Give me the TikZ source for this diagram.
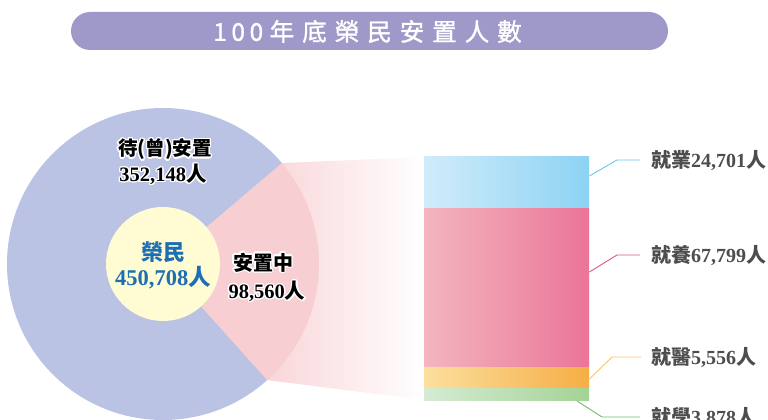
\documentclass[tikz,border=0pt]{standalone}
\usepackage{fontspec}
\setmainfont{Liberation Serif}
\newfontfamily\cjk{Noto Sans CJK TC}
\newfontfamily\cjktitle[FakeBold=1.3]{Noto Sans CJK TC}
\usepackage{contour}
\contourlength{1.3pt}
\usetikzlibrary{calc}
\definecolor{pillc}{HTML}{9F99C9}
\definecolor{bluec}{HTML}{BAC3E3}
\definecolor{pinks}{HTML}{F7CFD3}
\definecolor{pinkf}{HTML}{F9D6D9}
\definecolor{yelc}{HTML}{FFFBD3}
\definecolor{numblue}{HTML}{1D6FB5}
\definecolor{labc}{HTML}{4D4D4D}
\definecolor{jobL}{HTML}{D0ECFA}\definecolor{jobR}{HTML}{8DD3F3}
\definecolor{supL}{HTML}{F4B5BF}\definecolor{supR}{HTML}{EB7598}
\definecolor{medL}{HTML}{FCDF9F}\definecolor{medR}{HTML}{F5AE45}
\definecolor{stuL}{HTML}{D5EBD2}\definecolor{stuR}{HTML}{A4D396}
\definecolor{jobln}{HTML}{6CC5EE}
\definecolor{supln}{HTML}{E0567E}
\definecolor{medln}{HTML}{F9C36E}
\definecolor{stuln}{HTML}{6BBE66}
\newcommand\lab[3]{{\cjk\bfseries #1}{\bfseries #2}{\cjk\bfseries #3}}
\tikzset{
  barbox/.style={rectangle, inner sep=0pt, anchor=south west, minimum width=165pt},
  labtext/.style={anchor=west, inner sep=0pt, text=labc, font=\fontsize{20}{22}\selectfont},
  pietext/.style={inner sep=0pt, text=black, font=\fontsize{19.5}{21}\selectfont},
  leader/.style={line width=0.9pt},
}
\begin{document}
\begin{tikzpicture}[x=1pt,y=1pt]
\useasboundingbox (0,0) rectangle (768,420);
% title
\node[fill=pillc, rounded corners=19pt, minimum width=597pt, minimum height=38pt, inner sep=0pt] (pill) at (369.5,389) {};
\node[text=white, inner sep=0pt, font=\cjktitle\fontsize{24.5}{25}\selectfont] (title) at (367.5,388.5)
  {1\kern4.6pt 0\kern4.6pt 0\kern6.5pt 年\kern8pt 底\kern8pt 榮\kern8pt 民\kern8pt 安\kern8pt 置\kern8pt 人\kern8pt 數};
% pie
\coordinate (C) at (163,156);
\coordinate (A1) at ($(C)+(40.3:156)$);
\coordinate (A2) at ($(C)+(-48.1:156)$);
\fill[bluec] (C) circle (156);
\shade[left color=pinkf, right color=white] (A1) -- (424,263) -- (424,20) -- (A2) -- cycle;
\fill[pinks] (C) -- (A2) arc[start angle=-48.1, end angle=40.3, radius=156] -- cycle;
\fill[yelc] (C) circle (57);
% pie texts
\node[pietext] (w1) at (165,270) {\contour{white}{\cjk\bfseries 待(曾)安置}};
\node[pietext, font=\fontsize{20.5}{22}\selectfont] (w2) at (163,245) {\contour{white}{\bfseries 352,148{\cjk\bfseries 人}}};
\node[pietext, text=numblue, font=\fontsize{22}{24}\selectfont] (v1) at (163,168) {\cjk\bfseries 榮民};
\node[pietext, text=numblue, font=\fontsize{22.5}{24}\selectfont] (v2) at (163,142) {\bfseries 450,708{\cjk\bfseries 人}};
\node[pietext, font=\fontsize{20}{22}\selectfont] (p1) at (263,157) {\contour{white}{\cjk\bfseries 安置中}};
\node[pietext, font=\fontsize{20.5}{22}\selectfont] (p2) at (267,128) {\contour{white}{\bfseries 98,560{\cjk\bfseries 人}}};
% bars
\node[barbox, minimum height=52pt, left color=jobL, right color=jobR] (bjob) at (424,211) {};
\node[barbox, minimum height=159pt, left color=supL, right color=supR] (bsup) at (424,52) {};
\node[barbox, minimum height=21pt, left color=medL, right color=medR] (bmed) at (424,31) {};
\node[barbox, minimum height=12pt, left color=stuL, right color=stuR] (bstu) at (424,19) {};
% labels
\node[labtext] (tjob) at (651,260) {\lab{就業}{24,701}{人}};
\node[labtext] (tsup) at (651,165) {\lab{就養}{67,799}{人}};
\node[labtext] (tmed) at (651,63) {\lab{就醫}{5,556}{人}};
\node[labtext] (tstu) at (651,3) {\lab{就學}{3,878}{人}};
% leaders
\coordinate (jobk) at (617,260);
\coordinate (supk) at (617,165);
\coordinate (medk) at (612,63);
\coordinate (stuk) at (602,3);
\draw[leader, jobln] ($(bjob.south east)+(0,33)$) -- (jobk) -- ($(tjob.west)+(-11,0)$);
\draw[leader, supln] ($(bsup.south east)+(0,96)$) -- (supk) -- ($(tsup.west)+(-11,0)$);
\draw[leader, medln] ($(bmed.south east)+(0,10)$) -- (medk) -- ($(tmed.west)+(-10,0)$);
\draw[leader, stuln] ($(bstu.south west)+(153,0)$) -- (stuk) -- ($(tstu.west)+(-11,0)$);
\end{tikzpicture}
\end{document}
